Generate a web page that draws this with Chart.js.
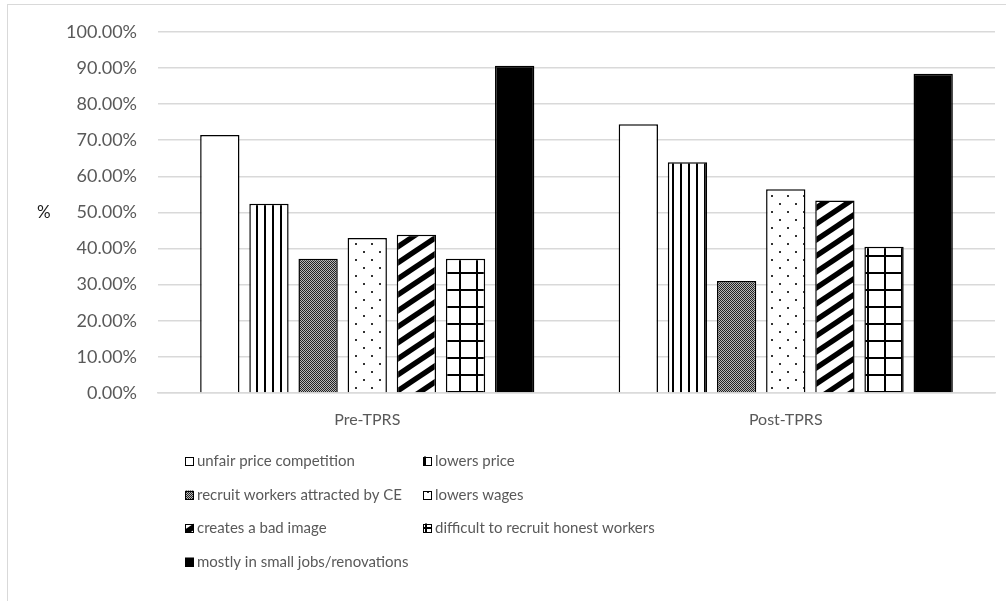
<!DOCTYPE html>
<html>
<head>
<meta charset="utf-8">
<title>Perceived effects of the informal construction economy</title>
<script src="https://cdn.jsdelivr.net/npm/chart.js@4.4.1/dist/chart.umd.min.js"></script>
<style>
  html, body { margin: 0; padding: 0; background: #fff; }
  #wrap { position: relative; width: 1006px; height: 601px; overflow: hidden; }
  canvas { display: block; }
</style>
</head>
<body>
<div id="wrap"><canvas id="chart" width="1006" height="601"></canvas></div>
<script>
// Survey periods
const categories = ['Pre-TPRS', 'Post-TPRS'];

// Share of respondents (%) citing each effect, [Pre-TPRS, Post-TPRS]
const unfairPriceCompetition = [71.4, 74.4];
const lowersPrice = [52.4, 63.9];
const recruitWorkersAttracted = [37.2, 31.0];
const lowersWages = [42.9, 56.4];
const createsBadImage = [43.8, 53.3];
const difficultToRecruit = [37.2, 40.5];
const mostlySmallJobs = [90.6, 88.4];

const seriesLabels = [
  'unfair price competition',
  'lowers price',
  'recruit workers attracted by CE',
  'lowers wages',
  'creates a bad image',
  'difficult to recruit honest workers',
  'mostly in small jobs/renovations'
];
const seriesValues = [
  unfairPriceCompetition, lowersPrice, recruitWorkersAttracted,
  lowersWages, createsBadImage, difficultToRecruit, mostlySmallJobs
];

// Y axis ticks
const yTicks = [0, 10, 20, 30, 40, 50, 60, 70, 80, 90, 100];
const yAxisTitle = '%';

const FONT = 'Lato, "Open Sans", sans-serif';
const TEXT_GREY = '#595959';
const GRID_GREY = '#d9d9d9';

const canvas = document.getElementById('chart');
const ctx = canvas.getContext('2d');

// Monochrome fill patterns for the bars
function tile(w, h, paint) {
  const c = document.createElement('canvas');
  c.width = w; c.height = h;
  const g = c.getContext('2d');
  g.fillStyle = '#fff';
  g.fillRect(0, 0, w, h);
  paint(g, w, h);
  return ctx.createPattern(c, 'repeat');
}

const fills = [
  '#ffffff',
  // vertical lines
  tile(8, 8, g => { g.fillStyle = '#000'; g.fillRect(0, 0, 2, 8); }),
  // fine dark checker
  tile(2, 2, g => {
    g.fillStyle = '#b8b8b8'; g.fillRect(0, 0, 2, 2);
    g.fillStyle = '#222'; g.fillRect(0, 0, 1, 1); g.fillRect(1, 1, 1, 1);
  }),
  // sparse staggered dots
  tile(16, 16, g => {
    g.fillStyle = '#333';
    g.fillRect(3, 3, 2, 2); g.fillRect(11, 11, 2, 2);
  }),
  // wide upward diagonal stripes
  tile(24, 16, (g, w, h) => {
    g.fillStyle = '#000';
    for (const k of [-h, 0, h]) {
      g.beginPath();
      g.moveTo(0, h + k - 3.2);
      g.lineTo(w, k - 3.2);
      g.lineTo(w, k + 3.2);
      g.lineTo(0, h + k + 3.2);
      g.closePath();
      g.fill();
    }
  }),
  // large grid
  tile(17, 17, g => {
    g.fillStyle = '#000';
    g.fillRect(0, 0, 2, 17); g.fillRect(0, 0, 17, 2);
  }),
  '#000000'
];

// Light outer frame around the chart
const framePlugin = {
  id: 'frame',
  beforeDraw(chart) {
    const c = chart.ctx;
    c.save();
    c.fillStyle = '#fff';
    c.fillRect(0, 0, chart.width, chart.height);
    c.strokeStyle = GRID_GREY;
    c.lineWidth = 1;
    c.strokeRect(7.5, 4.5, chart.width + 20, chart.height + 20);
    c.restore();
  }
};

// Upright axis title and a two-column legend under the plot
const annotatePlugin = {
  id: 'annotate',
  afterDraw(chart, args, opts) {
    const c = chart.ctx;
    c.save();
    c.textBaseline = 'middle';
    c.textAlign = 'left';
    c.font = '17px ' + FONT;
    c.fillStyle = '#1a1a1a';
    c.fillText(yAxisTitle, opts.titleX, opts.titleY);

    c.font = '15px ' + FONT;
    chart.data.datasets.forEach((ds, i) => {
      const x = opts.colX[i % 2];
      const y = opts.rowY[Math.floor(i / 2)];
      const s = opts.box;
      c.fillStyle = ds.backgroundColor;
      c.fillRect(x, y - s / 2, s, s);
      c.strokeStyle = '#000';
      c.lineWidth = 1;
      c.strokeRect(x + 0.5, Math.round(y - s / 2) + 0.5, s - 1, s - 1);
      c.fillStyle = TEXT_GREY;
      c.fillText(ds.label, x + s + 3, y);
    });
    c.restore();
  }
};

function build() {
  new Chart(ctx, {
    type: 'bar',
    data: {
      labels: categories,
      datasets: seriesLabels.map((label, i) => ({
        label,
        data: seriesValues[i],
        backgroundColor: fills[i],
        borderColor: '#000',
        borderWidth: 1.5,
        categoryPercentage: 0.822,
        barPercentage: 0.8
      }))
    },
    options: {
      responsive: false,
      devicePixelRatio: 1,
      animation: false,
      layout: { padding: { top: 28, left: 8, right: 11, bottom: 0 } },
      plugins: {
        legend: { display: false },
        tooltip: { enabled: false },
        annotate: {
          titleX: 37, titleY: 213,
          colX: [185, 423],
          rowY: [461, 495, 528, 562],
          box: 9
        }
      },
      scales: {
        x: {
          grid: { display: false },
          border: { display: true, color: GRID_GREY, width: 1.5 },
          ticks: { color: TEXT_GREY, font: { family: FONT, size: 16 }, padding: 9 },
          afterFit(scale) { scale.height = 601 - 393; }
        },
        y: {
          min: yTicks[0],
          max: yTicks[yTicks.length - 1],
          afterBuildTicks(scale) { scale.ticks = yTicks.map(v => ({ value: v })); },
          grid: { color: GRID_GREY, lineWidth: 1.5, drawTicks: false },
          border: { display: false },
          ticks: {
            color: TEXT_GREY,
            font: { family: FONT, size: 18 },
            padding: 21,
            callback: v => v.toFixed(2) + '%'
          },
          afterFit(scale) { scale.width = 150; }
        }
      }
    },
    plugins: [framePlugin, annotatePlugin]
  });
}

if (document.fonts && document.fonts.load) {
  Promise.all([document.fonts.load('18px Lato'), document.fonts.load('15px Lato')])
    .then(build, build);
} else {
  build();
}
</script>
</body>
</html>
